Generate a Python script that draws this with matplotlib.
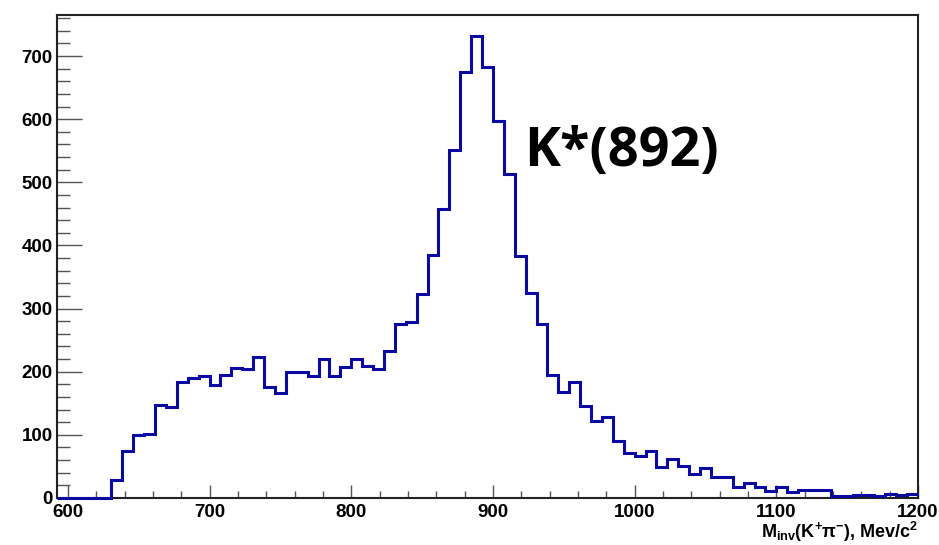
import numpy as np
import matplotlib
matplotlib.use('Agg')
import matplotlib.pyplot as plt
from matplotlib.ticker import MultipleLocator

# histogram binning: 260 bins over 0..2000, shown from bin 77 to bin 156
bin_lo = 2000.0 / 260 * 77
bin_hi = 1200.0
counts = [0, 0, 0, 0, 0, 28, 75, 99, 102, 147,
          144, 183, 190, 194, 179, 195, 206, 204, 223, 176,
          166, 199, 199, 194, 220, 194, 208, 220, 209, 204,
          233, 276, 278, 323, 385, 457, 551, 674, 732, 682,
          597, 513, 383, 325, 276, 195, 168, 184, 146, 122,
          129, 91, 72, 67, 75, 49, 61, 51, 38, 47,
          34, 34, 17, 24, 17, 11, 17, 9, 12, 12,
          13, 3, 3, 4, 5, 3, 6, 4, 7]
edges = np.linspace(bin_lo, bin_hi, len(counts) + 1)

x_ticks = [600, 700, 800, 900, 1000, 1100, 1200]
y_ticks = [0, 100, 200, 300, 400, 500, 600, 700]
x_title = r'M$_{\mathrm{inv}}$(K$^{\mathrm{+}}$$\mathrm{\pi}^{\mathrm{-}}$), Mev/c$^{\mathrm{2}}$'
peak_label = 'K*(892)'

plt.rcParams['font.family'] = ['Liberation Sans', 'DejaVu Sans']
plt.rcParams['font.weight'] = 'bold'
plt.rcParams['mathtext.fontset'] = 'custom'
plt.rcParams['mathtext.rm'] = 'Liberation Sans:bold'
plt.rcParams['mathtext.it'] = 'Liberation Sans:bold'
plt.rcParams['mathtext.bf'] = 'Liberation Sans:bold'

fig = plt.figure(figsize=(9.39, 5.45), dpi=100)
ax = fig.add_axes([57 / 939, 47 / 545, (918 - 57) / 939, (498 - 15) / 545])

ax.stairs(counts, edges, color='#0a0aa0', linewidth=2.2, baseline=None,
          zorder=5, clip_on=False)

ax.set_xlim(bin_lo, bin_hi)
ax.set_ylim(0, 765)

ax.set_xticks(x_ticks)
ax.set_yticks(y_ticks)
ax.xaxis.set_minor_locator(MultipleLocator(20))
ax.yaxis.set_minor_locator(MultipleLocator(20))
ax.tick_params(axis='x', which='major', direction='in', length=9.5, width=1.0,
               color='#555555', labelsize=13.5, pad=4.5)
ax.tick_params(axis='x', which='minor', direction='in', length=5, width=1.0,
               color='#555555')
ax.tick_params(axis='y', which='major', direction='in', length=18, width=1.0,
               color='#555555', labelsize=13.5, pad=3)
ax.tick_params(axis='y', which='minor', direction='in', length=9, width=1.0,
               color='#555555')
for lab in ax.get_xticklabels() + ax.get_yticklabels():
    lab.set_fontweight('bold')

for side in ['left', 'right', 'top', 'bottom']:
    ax.spines[side].set_linewidth(1.5)
    ax.spines[side].set_color('#222222')

fig.text(918 / 939, 1 - 532 / 545, x_title, ha='right', va='center',
         fontsize=13, fontweight='bold')

ax.text(0.542, 0.716, peak_label, transform=ax.transAxes, ha='left', va='center',
        fontsize=39, fontweight='bold', family=['Open Sans', 'DejaVu Sans'])

fig.savefig('out.png', dpi=100)
